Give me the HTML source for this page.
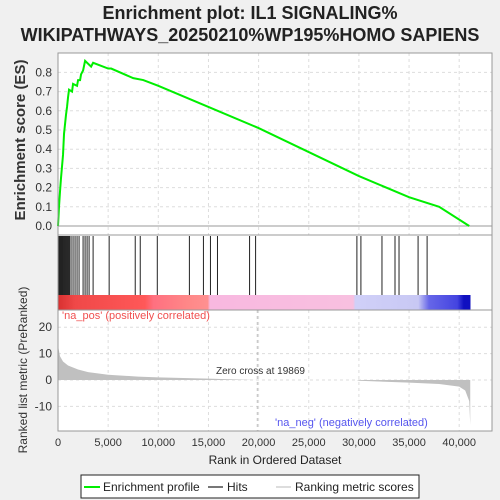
<!DOCTYPE html>
<html><head><meta charset="utf-8"><style>
body{margin:0;background:#f0f0f0;}
svg{display:block;font-family:"Liberation Sans",sans-serif;}
</style></head><body>
<svg id="c" width="500" height="500">
<text x="250" y="19" font-size="18" font-weight="bold" text-anchor="middle" fill="#222">Enrichment plot: IL1 SIGNALING%</text>
<text x="250" y="41" font-size="18" font-weight="bold" text-anchor="middle" fill="#222">WIKIPATHWAYS_20250210%WP195%HOMO SAPIENS</text>
<rect x="58" y="53" width="434" height="378" fill="#fff"/>
<g id="grid"></g>
<g id="bars"></g>
<g id="hitsG"></g>
<g id="metricG"></g>
<polyline id="es" fill="none" stroke="#00ee00" stroke-width="2"/>
<rect x="58" y="53" width="434" height="182" fill="none" stroke="#999"/>
<rect x="58" y="235" width="434" height="75" fill="none" stroke="#999"/>
<rect x="58" y="310" width="434" height="121" fill="none" stroke="#999"/>
<g id="axes" font-size="12" fill="#333"></g>
<text x="62" y="319" font-size="11" fill="#f05050">'na_pos' (positively correlated)</text>
<text x="275" y="426" font-size="11" fill="#5555ee">'na_neg' (negatively correlated)</text>
<text x="216" y="374" font-size="10" fill="#333">Zero cross at 19869</text>
<text x="25" y="140" font-size="15" font-weight="bold" fill="#333" text-anchor="middle" transform="rotate(-90 25 140)">Enrichment score (ES)</text>
<text x="27" y="370" font-size="12" fill="#333" text-anchor="middle" transform="rotate(-90 27 370)">Ranked list metric (PreRanked)</text>
<text x="275" y="464" font-size="12" fill="#222" text-anchor="middle">Rank in Ordered Dataset</text>
<g>
<rect x="81" y="475" width="338" height="23" fill="#fff" stroke="#222"/>
<line x1="84" y1="487" x2="100" y2="487" stroke="#00ee00" stroke-width="2"/>
<text x="103" y="491" font-size="12" fill="#222">Enrichment profile</text>
<line x1="208" y1="487" x2="223" y2="487" stroke="#777" stroke-width="2"/>
<text x="227" y="491" font-size="12" fill="#222">Hits</text>
<line x1="276" y1="487" x2="291" y2="487" stroke="#ddd" stroke-width="2"/>
<text x="295" y="491" font-size="12" fill="#222">Ranking metric scores</text>
</g>
</svg>
<script>
const esRanks=[0,100,200,300,400,500,600,700,800,900,1000,1100,1400,1500,1900,2000,2200,2300,2500,2700,3300,3500,5000,5300,7500,8500,10000,15000,20000,30000,35000,38000,41000];
const esValues=[0,0.1,0.18,0.25,0.31,0.37,0.48,0.53,0.58,0.62,0.67,0.71,0.70,0.74,0.73,0.76,0.76,0.79,0.81,0.86,0.83,0.85,0.82,0.82,0.77,0.76,0.73,0.62,0.51,0.26,0.15,0.10,0.0];
const hitRanks=[50,150,250,350,450,550,650,750,850,950,1050,1150,1300,1500,1700,1900,2100,2500,2700,2900,3100,3500,5100,7700,8200,9900,13100,14500,15200,15900,19100,19700,29800,30200,32300,33600,34000,35900,36800];
const metricRanks=[0,200,500,1000,2000,3000,5000,8000,10000,15000,19869,29800,30000,35000,38000,40000,40600,41000,41100];
const metricValues=[13,9,7,5.5,4,3,2,1.3,1,0.5,0,0,-0.3,-1,-1.5,-2.5,-4,-8,-17];
const esTicks=[0,0.1,0.2,0.3,0.4,0.5,0.6,0.7,0.8];
const metricTicks=[20,10,0,-10];
const xTicks=[0,5000,10000,15000,20000,25000,30000,35000,40000];
const NS="http://www.w3.org/2000/svg";
const X=r=>58+r*0.01003;
const Yes=v=>226-v*192;
const Ym=v=>380-v*2.64;
function mk(t,a,p){const e=document.createElementNS(NS,t);for(const k in a)e.setAttribute(k,a[k]);p.appendChild(e);return e;}
const grid=document.getElementById('grid'),axes=document.getElementById('axes');
xTicks.forEach(t=>{
 if(t>0){const g=mk('line',{x1:X(t),x2:X(t),y1:53,y2:235,stroke:'#ddd','stroke-dasharray':'3,3'},grid);
 
 const g2=mk('line',{x1:X(t),x2:X(t),y1:310,y2:431,stroke:'#ddd','stroke-dasharray':'3,3'},grid);
 }
 const tx=mk('text',{x:X(t),y:446,'text-anchor':'middle','font-size':11},axes);tx.textContent=t.toLocaleString('en-US');
 
});
esTicks.forEach(t=>{
 const g=mk('line',{x1:58,x2:492,y1:Yes(t),y2:Yes(t),stroke:t===0?'#999':'#ddd','stroke-dasharray':t===0?'':'3,3'},grid);
 
 const tx=mk('text',{x:52,y:Yes(t)+4,'text-anchor':'end'},axes);tx.textContent=t.toFixed(1);
 
});
metricTicks.forEach(t=>{
 const g=mk('line',{x1:58,x2:492,y1:Ym(t),y2:Ym(t),stroke:'#ddd','stroke-dasharray':'3,3'},grid);
 
 const tx=mk('text',{x:52,y:Ym(t)+4,'text-anchor':'end'},axes);tx.textContent=t;
 
});
const bars=document.getElementById('bars');
const defs=mk('defs',{},bars);
const lg=mk('linearGradient',{id:'cb',x1:0,x2:1,y1:0,y2:0},defs);
[[0,'#d83030'],[0.04,'#f04848'],[0.2,'#ff5858'],[0.22,'#ff7080'],[0.3,'#ff8888'],[0.345,'#ff9090'],[0.35,'#f8b8e0'],[0.68,'#f8c0e0'],[0.685,'#d0d0f8'],[0.83,'#c8c8f4'],[0.855,'#6666e8'],[0.92,'#4444e0'],[0.935,'#1010c0'],[0.95,'#1010c0'],[0.951,'#ffffff'],[1,'#ffffff']].forEach(s=>mk('stop',{offset:s[0],'stop-color':s[1]},lg));
const cbr=mk('rect',{x:58,y:295,width:434,height:15,fill:'url(#cb)'},bars);

const hg=document.getElementById('hitsG');
hitRanks.forEach(r=>{const l=mk('line',{x1:X(r),x2:X(r),y1:236,y2:295,stroke:'#222','stroke-width':1},hg);
 });
const mg=document.getElementById('metricG');
let d='M'+X(metricRanks[0])+','+Ym(0);
metricRanks.forEach((r,i)=>{d+=' L'+X(r)+','+Ym(metricValues[i]);});
d+=' L'+X(metricRanks[metricRanks.length-1])+','+Ym(0)+' Z';
const ma=mk('path',{d:d,fill:'#c0c0c0'},mg);

const zl=mk('line',{x1:X(19869),x2:X(19869),y1:310,y2:431,stroke:'#bbb','stroke-dasharray':'3,3'},mg);

document.getElementById('es').setAttribute('points',esRanks.map((r,i)=>X(r)+','+Yes(esValues[i])).join(' '));
</script>
</body></html>
